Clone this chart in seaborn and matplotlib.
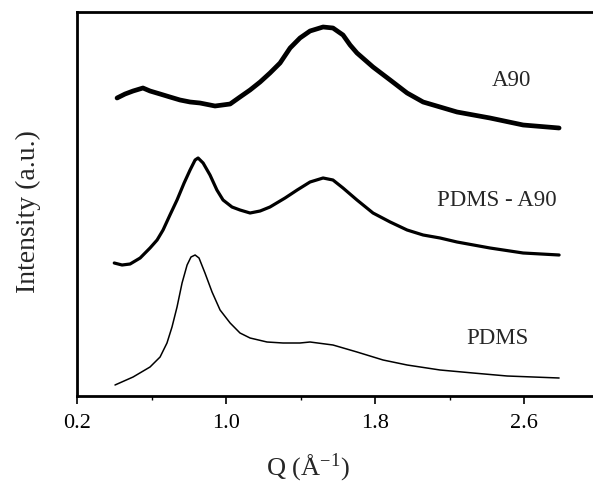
import matplotlib
matplotlib.use("Agg")
import matplotlib.pyplot as plt
import seaborn as sns
import pandas as pd

# Scattering vector Q (1/Angstrom) and intensity (arbitrary units, offset stacked)
q_a90 = [0.415, 0.458, 0.501, 0.554, 0.592, 0.646, 0.699, 0.753, 0.807, 0.860,
         0.941, 1.022, 1.075, 1.129, 1.183, 1.236, 1.290, 1.344, 1.397, 1.451,
         1.521, 1.574, 1.628, 1.666, 1.703, 1.746, 1.789, 1.881, 1.972, 2.058,
         2.149, 2.240, 2.417, 2.595, 2.788]
i_a90 = [298, 302, 305, 308, 305, 302, 299, 296, 294, 293, 290, 292, 299, 306,
         314, 323, 333, 348, 358, 365, 369, 368, 361, 351, 343, 336, 329, 316,
         303, 294, 289, 284, 278, 271, 268]

q_blend = [0.400, 0.442, 0.485, 0.539, 0.592, 0.630, 0.662, 0.699, 0.737,
           0.775, 0.807, 0.834, 0.850, 0.877, 0.914, 0.951, 0.984, 1.032,
           1.075, 1.129, 1.183, 1.236, 1.317, 1.382, 1.451, 1.521, 1.574,
           1.628, 1.703, 1.789, 1.881, 1.972, 2.058, 2.149, 2.240, 2.417,
           2.595, 2.788]
i_blend = [133, 131, 132, 138, 148, 156, 166, 181, 196, 213, 226, 236, 238,
           233, 221, 206, 196, 189, 186, 183, 185, 189, 198, 206, 214, 218,
           216, 208, 196, 183, 174, 166, 161, 158, 154, 148, 143, 141]

q_pdms = [0.404, 0.501, 0.592, 0.646, 0.683, 0.710, 0.737, 0.764, 0.791,
          0.812, 0.834, 0.855, 0.887, 0.925, 0.968, 1.022, 1.075, 1.129,
          1.220, 1.306, 1.397, 1.451, 1.574, 1.703, 1.843, 1.972, 2.149,
          2.326, 2.509, 2.788]
i_pdms = [11, 19, 29, 39, 53, 69, 89, 113, 131, 139, 141, 138, 123, 104, 86,
          73, 63, 58, 54, 53, 53, 54, 51, 44, 36, 31, 26, 23, 20, 18]

labels = ["A90", "PDMS - A90", "PDMS"]
x_ticks = [0.2, 1.0, 1.8, 2.6]

sns.set_theme(style="ticks")
plt.rcParams["font.family"] = ["Liberation Serif", "DejaVu Serif"]
plt.rcParams["mathtext.fontset"] = "stix"

fig = plt.figure(figsize=(5.93, 4.84), dpi=100)
ax = fig.add_axes([77 / 593, 1 - 396 / 484, 1 - 77 / 593, 384 / 484])

curves = [(q_a90, i_a90, 3.4), (q_blend, i_blend, 2.3), (q_pdms, i_pdms, 1.1)]
for (q, inten, lw), name in zip(curves, labels):
    df = pd.DataFrame({"Q": q, "I": inten})
    sns.lineplot(data=df, x="Q", y="I", ax=ax, color="black", lw=lw,
                 estimator=None, sort=False)

ax.set_xlim(0.2, 2.97)
ax.set_ylim(0, 384)
ax.set_xticks(x_ticks)
ax.set_xticklabels([f"{t:.1f}" for t in x_ticks])
ax.set_xticks([0.6, 1.4, 2.2], minor=True)
ax.set_yticks([])
ax.tick_params(axis="x", which="major", direction="out", length=6, width=1.2,
               labelsize=16, pad=7, color="black", labelcolor="black")
ax.tick_params(axis="x", which="minor", direction="out", length=3, width=1.0,
               color="black")
for side in ["left", "top", "bottom"]:
    ax.spines[side].set_linewidth(2.0)
    ax.spines[side].set_color("black")
ax.spines["right"].set_visible(False)
ax.set_xlabel("")
ax.set_ylabel("")

ax.text(2.53, 316, labels[0], fontsize=16.5, ha="center", va="center")
ax.text(2.455, 196, labels[1], fontsize=16.5, ha="center", va="center")
ax.text(2.455, 58, labels[2], fontsize=16.5, ha="center", va="center")

fig.text(28 / 593, 1 - 212 / 484, "Intensity (a.u.)", rotation=90,
         fontsize=20, ha="center", va="center")
fig.text(308 / 593, 1 - 468 / 484, r"Q (Å$^{\mathregular{-1}}$)",
         fontsize=19, ha="center", va="center")

fig.savefig("out.png", dpi=100, facecolor="white")
